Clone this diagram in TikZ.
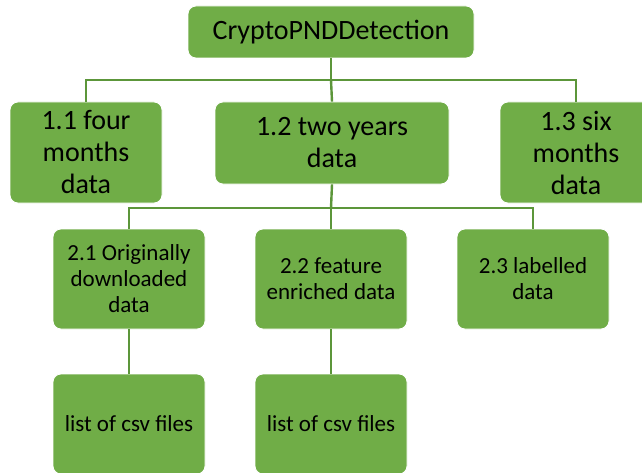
\documentclass[tikz,border=0pt]{standalone}
\usepackage{fontspec}
\setmainfont{Carlito}
\definecolor{box_c}{RGB}{112,173,71}
\definecolor{line_c}{RGB}{92,150,58}
\usepackage{tikz}
\usetikzlibrary{arrows.meta,
                calc,
                positioning}

\begin{document}
\begin{tikzpicture}[
			x=1pt, y=1pt,
			box/.style = {rectangle, rounded corners=8pt, fill=box_c, draw=white, line width=0.8pt,
				inner sep=0pt, align=center, text=black},
			big/.style = {box, font=\fontsize{28}{32}\selectfont},
			small/.style = {box, font=\fontsize{23}{26}\selectfont, minimum width=152, minimum height=100},
			link/.style = {draw=line_c, line width=2.4pt},
			]
			\clip (0,0) rectangle (642,472);
			\useasboundingbox (0,0) rectangle (642,472);
			% top
			\node[big, minimum width=286, minimum height=52] (root) at (331,440) {CryptoPNDDetection};
			% first level
			\node[big, minimum width=152, minimum height=101] (four) at (86,319.5) {1.1 four\\months\\data};
			\node[big, minimum width=234, minimum height=82] (two) at (332,329) {1.2 two years\\data};
			\node[big, minimum width=152, minimum height=101] (six) at (576,319.5) {1.3 six\\months\\data};
			% second level
			\node[small] (orig) at (129,193) {2.1 Originally\\downloaded\\data};
			\node[small] (feat) at (331,193) {2.2 feature\\enriched data};
			\node[small] (lab) at (533,193) {2.3 labelled\\data};
			% files
			\node[small] (csvA) at (129,48) {list of csv files};
			\node[small] (csvB) at (331,48) {list of csv files};
			% buses
			\coordinate (bus1) at (331,392);
			\coordinate (bus2) at (331,264);
			% edges
			\draw[link] (root.south) -- (bus1);
			\draw[link] (bus1) -| (four.north);
			\draw[link] (bus1) -- (two.north);
			\draw[link] (bus1) -| (six.north);
			\draw[link] (two.south) -- (bus2);
			\draw[link] (bus2) -| (orig.north);
			\draw[link] (bus2) -- (feat.north);
			\draw[link] (bus2) -| (lab.north);
			\draw[link] (orig.south) -- (csvA.north);
			\draw[link] (feat.south) -- (csvB.north);
		\end{tikzpicture}
\end{document}
